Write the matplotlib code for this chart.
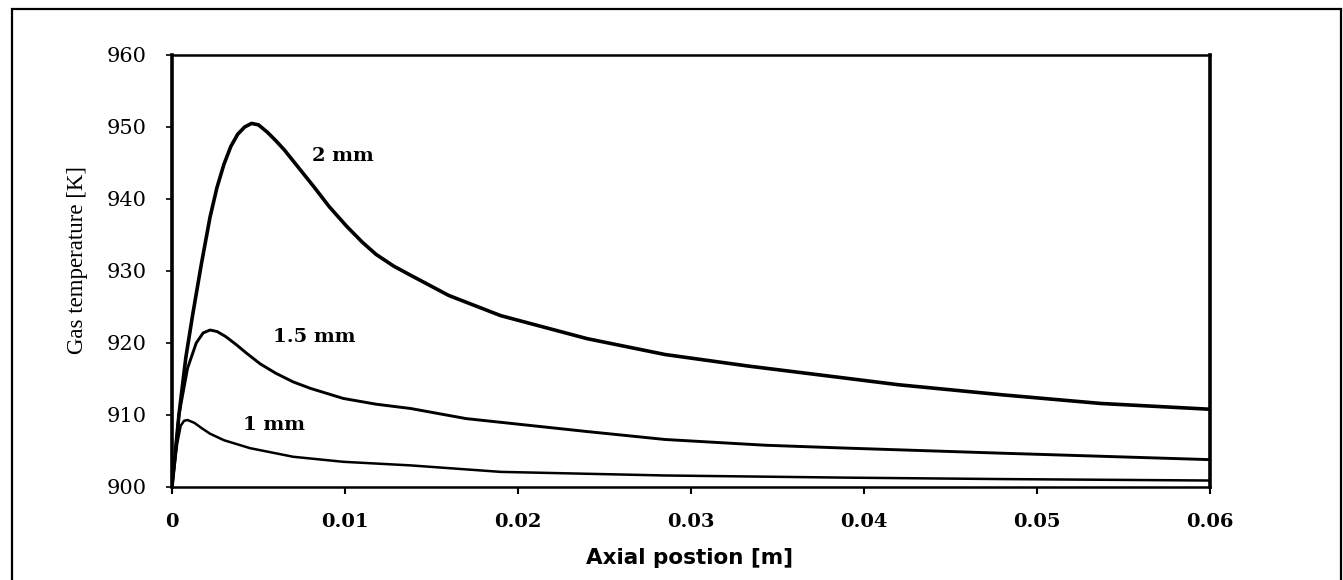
import matplotlib
matplotlib.use("Agg")
import matplotlib.pyplot as plt
from matplotlib.patches import Rectangle

# Data
x_2mm = [0, 0.0004, 0.0008, 0.0012, 0.0017, 0.0022, 0.0026, 0.0030, 0.0034, 0.0038,
         0.0042, 0.0046, 0.0050, 0.0055, 0.0060, 0.0065, 0.0073, 0.0082, 0.0091,
         0.0101, 0.0110, 0.0118, 0.0128, 0.0138, 0.016, 0.019, 0.024, 0.0285, 0.0333,
         0.039, 0.042, 0.048, 0.0537, 0.06]
t_2mm = [900, 910, 918, 924, 931, 937.5, 941.6, 944.8, 947.3, 949.0,
         950.0, 950.5, 950.3, 949.3, 948.1, 946.8, 944.4, 941.7, 938.9,
         936.2, 934.0, 932.3, 930.7, 929.4, 926.6, 923.8, 920.6, 918.4, 916.8,
         915.1, 914.2, 912.8, 911.6, 910.8]

x_15mm = [0, 0.0004, 0.0009, 0.0014, 0.0018, 0.0022, 0.0026, 0.0031, 0.0037, 0.0043,
          0.0051, 0.006, 0.007, 0.008, 0.0099, 0.0118, 0.0138, 0.017, 0.024, 0.0285,
          0.0343, 0.039, 0.0479, 0.06]
t_15mm = [900, 910, 916.5, 920.0, 921.4, 921.8, 921.6, 920.9, 919.8, 918.6,
          917.1, 915.8, 914.6, 913.7, 912.3, 911.5, 910.9, 909.5, 907.7, 906.6,
          905.8, 905.4, 904.7, 903.8]

x_1mm = [0, 0.0003, 0.0005, 0.0007, 0.0009, 0.0013, 0.0017, 0.0022, 0.0030, 0.0045,
         0.007, 0.0099, 0.0138, 0.019, 0.0285, 0.039, 0.048, 0.06]
t_1mm = [900, 906, 908.5, 909.2, 909.3, 908.9, 908.2, 907.4, 906.5, 905.4,
         904.2, 903.5, 903.0, 902.1, 901.6, 901.3, 901.1, 900.9]

curve_labels = ["2 mm", "1.5 mm", "1 mm"]
label_pos = [(0.0099, 946.0), (0.0082, 920.9), (0.0059, 908.6)]

x_ticks = [0, 0.01, 0.02, 0.03, 0.04, 0.05, 0.06]
x_ticklabels = ["0", "0.01", "0.02", "0.03", "0.04", "0.05", "0.06"]
y_ticks = [900, 910, 920, 930, 940, 950, 960]

W, H = 1343, 580
fig = plt.figure(figsize=(W / 100, H / 100), dpi=100)
fig.patch.set_facecolor("white")

# outer frame
fig.patches.append(Rectangle((12 / W, -0.05), (1341 - 12) / W, 1 - 9 / H + 0.05,
                             transform=fig.transFigure, fill=False,
                             edgecolor="black", linewidth=1.6))

ax = fig.add_axes([172 / W, 1 - 487 / H, (1210 - 172) / W, (487 - 55) / H])

ax.plot(x_2mm, t_2mm, color="black", lw=2.6, solid_joinstyle="round")
ax.plot(x_15mm, t_15mm, color="black", lw=2.1, solid_joinstyle="round")
ax.plot(x_1mm, t_1mm, color="black", lw=1.8, solid_joinstyle="round")

for lab, (lx, ly) in zip(curve_labels, label_pos):
    ax.text(lx, ly, lab, ha="center", va="center", fontsize=14,
            fontweight="bold", family="DejaVu Serif")

ax.set_xlim(0, 0.06)
ax.set_ylim(900, 960)
ax.set_xticks(x_ticks)
ax.set_xticklabels(x_ticklabels)
ax.set_yticks(y_ticks)

for lbl in ax.get_xticklabels():
    lbl.set_family("DejaVu Serif")
    lbl.set_fontweight("bold")
    lbl.set_fontsize(14)
for lbl in ax.get_yticklabels():
    lbl.set_family("DejaVu Serif")
    lbl.set_fontsize(15)

ax.tick_params(axis="x", direction="out", length=5, width=1.5, pad=14)
ax.tick_params(axis="y", direction="out", length=4, width=1.2, pad=14)

for side in ["left", "right"]:
    ax.spines[side].set_linewidth(2.6)
for side in ["top", "bottom"]:
    ax.spines[side].set_linewidth(1.8)

ax.set_ylabel("Gas temperature [K]", family="Liberation Serif", fontsize=16.5)
ax.yaxis.set_label_coords((78 - 172) / (1210 - 172), (487 - 260) / (487 - 55))
ax.yaxis.label.set_va("center")
ax.set_xlabel("Axial postion [m]", family="DejaVu Sans", fontweight="bold",
              fontsize=15.5)
ax.xaxis.set_label_coords((690 - 172) / (1210 - 172), -(558 - 487) / (487 - 55))
ax.xaxis.label.set_va("center")

fig.savefig("out.png", dpi=100, facecolor="white")
